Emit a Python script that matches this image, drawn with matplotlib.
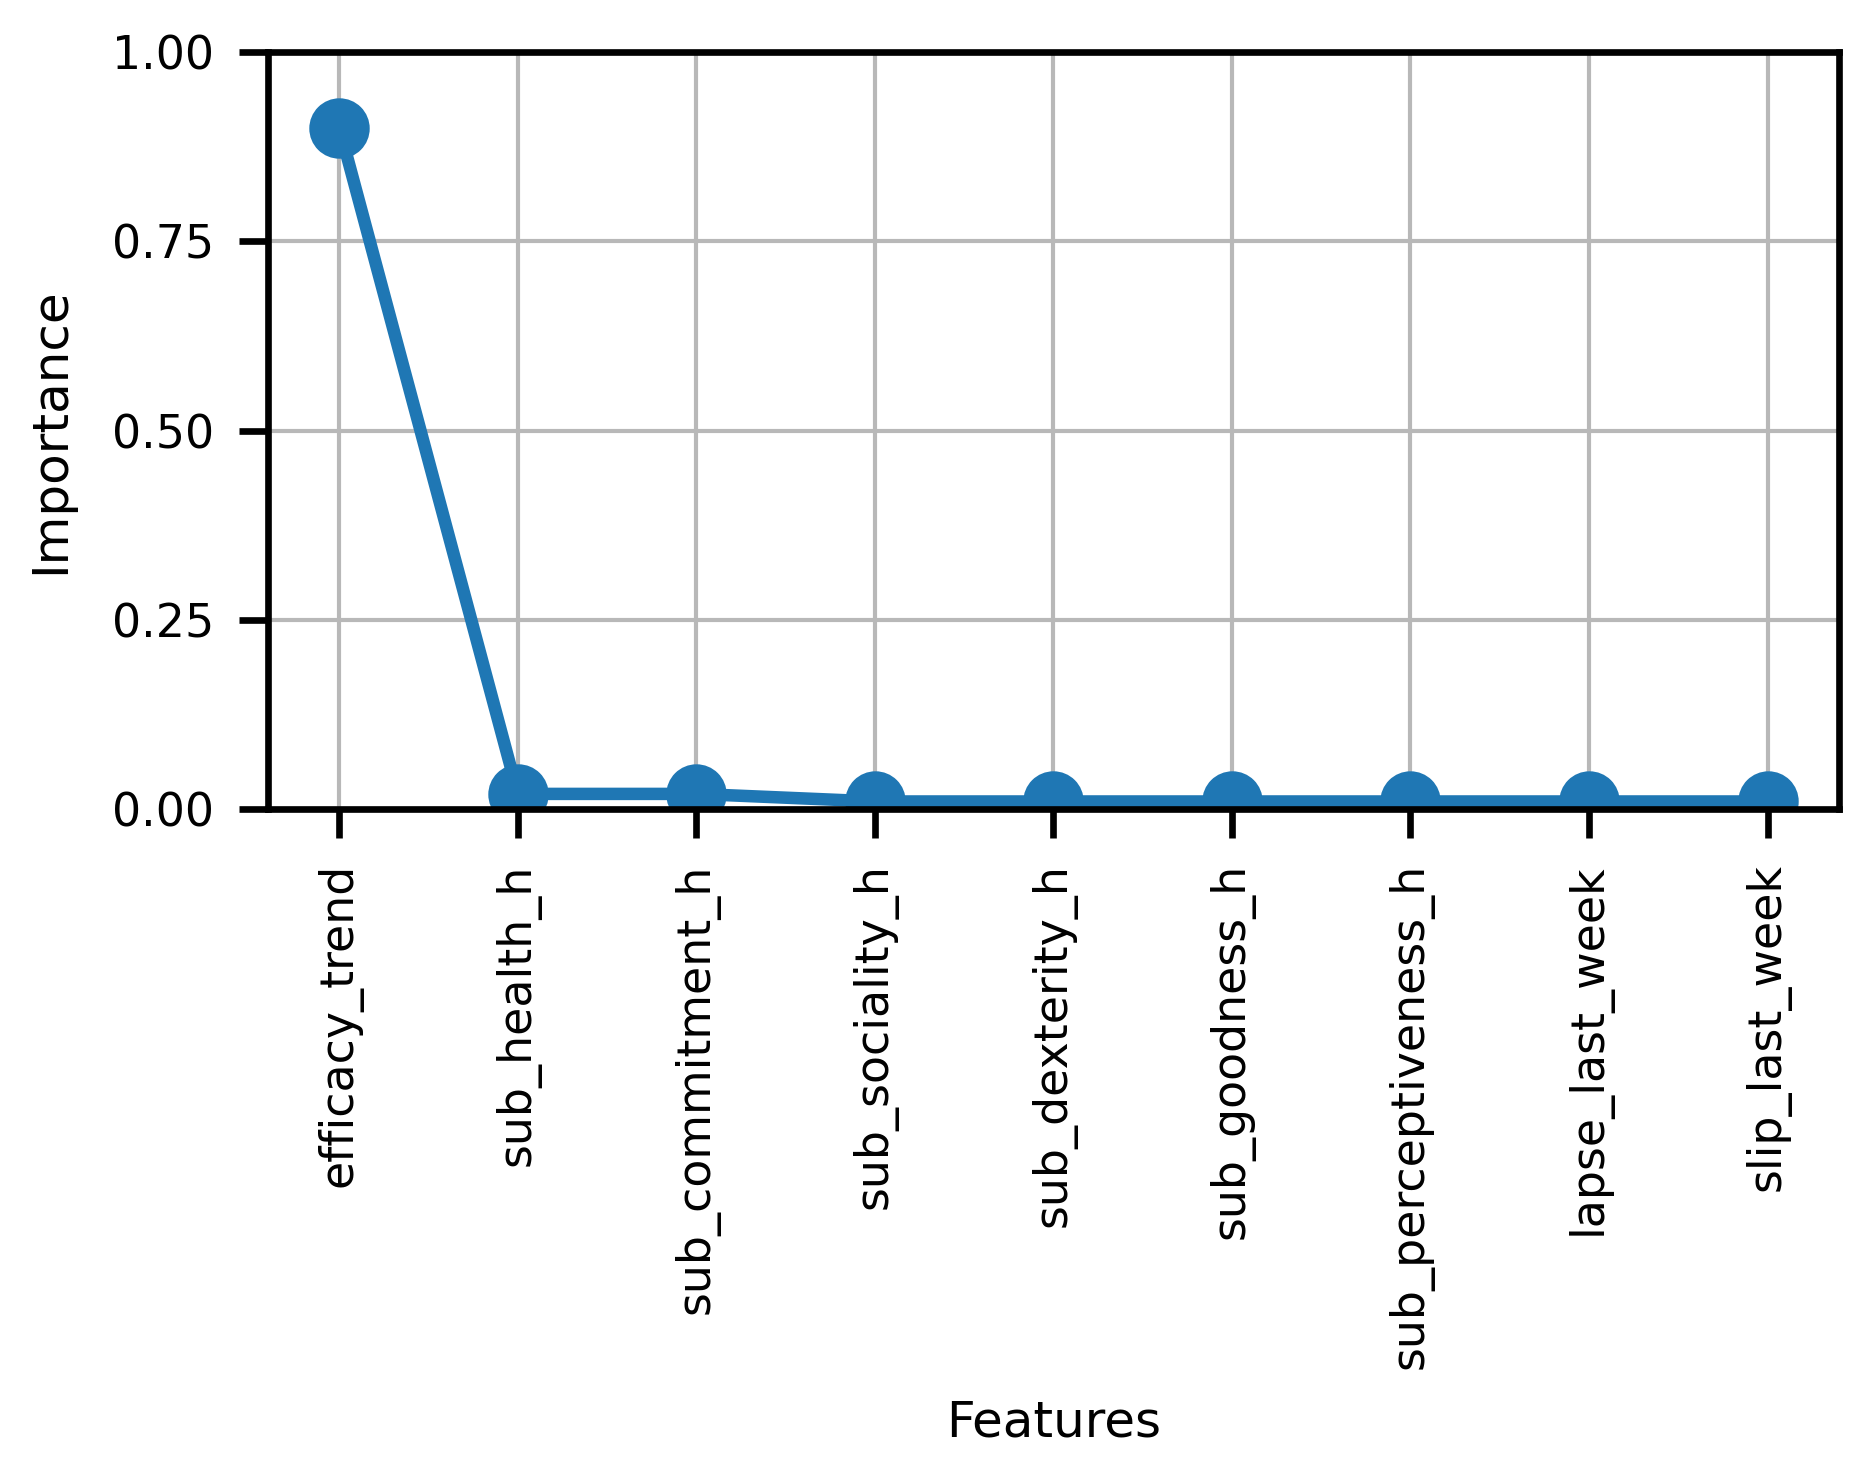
import matplotlib
matplotlib.use("Agg")
import matplotlib.pyplot as plt

features = ["efficacy_trend", "sub_health_h", "sub_commitment_h", "sub_sociality_h",
            "sub_dexterity_h", "sub_goodness_h", "sub_perceptiveness_h",
            "lapse_last_week", "slip_last_week"]
importance = [0.90, 0.02, 0.02, 0.01, 0.01, 0.01, 0.01, 0.01, 0.01]
yticks = [0.00, 0.25, 0.50, 0.75, 1.00]

dpi = 300
fig = plt.figure(figsize=(1866 / dpi, 1475 / dpi), dpi=dpi)
ax = fig.add_axes([0.1436, 0.4515, 0.9855 - 0.1436, 0.9647 - 0.4515])

x = list(range(len(features)))
ax.plot(x, importance, color="#1f77b4", linewidth=3.0, marker="o", markersize=13.5)
ax.set_ylim(0, 1)
ax.set_xticks(x)
ax.set_xticklabels(features, rotation=90, fontsize=11)
ax.set_yticks(yticks)
ax.set_yticklabels([f"{v:.2f}" for v in yticks], fontsize=11)
ax.grid(True, color="#b8b8b8", linewidth=1.0)
ax.set_axisbelow(True)
for s in ax.spines.values():
    s.set_linewidth(1.6)
ax.tick_params(width=1.6, length=7, pad=6.0)
ax.set_xlabel("Features", fontsize=12, labelpad=7)
ax.set_ylabel("Importance", fontsize=12, labelpad=9)

fig.savefig("out.png", dpi=dpi)
